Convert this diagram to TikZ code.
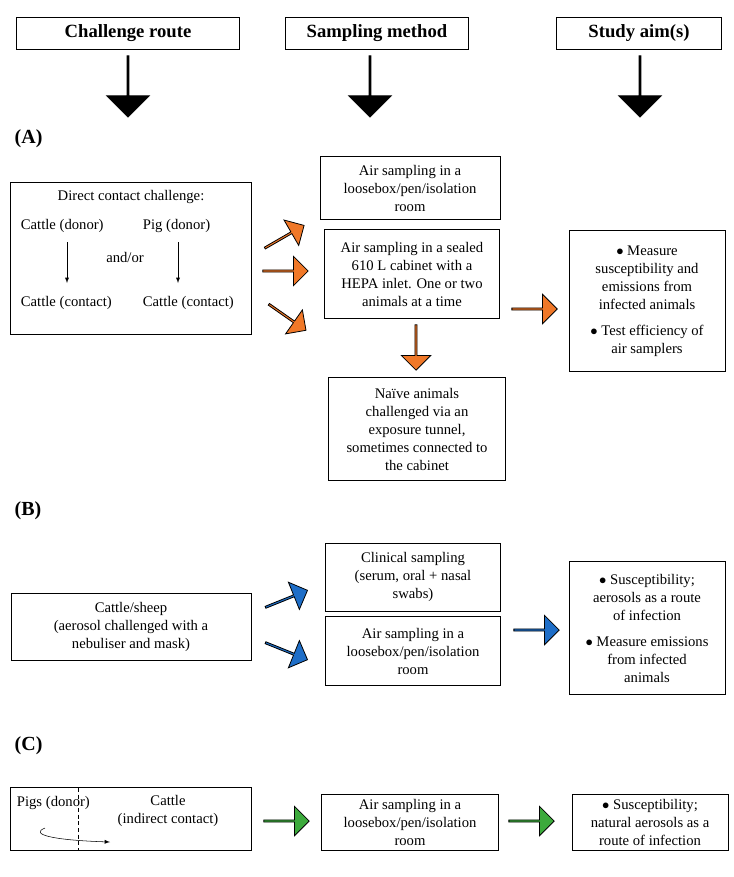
\documentclass[tikz,border=0pt]{standalone}
\usepackage{fontspec}
\setmainfont{Liberation Serif}
\usetikzlibrary{shapes.arrows, positioning}
\definecolor{orng}{RGB}{240,120,40}
\definecolor{blu}{RGB}{30,110,200}
\definecolor{grn}{RGB}{60,170,60}
\begin{document}
\begin{tikzpicture}[x=0.75pt,y=-0.75pt]
\tikzset{BoxStyle/.style = {draw, align= center, font=\fontsize{11}{13.5}\selectfont, inner sep=2pt},
  HeadStyle/.style = {draw, minimum height=24pt, font=\fontsize{14}{16}\selectfont\bfseries},
  FatArrow/.style = {single arrow, draw, fill=#1, minimum height=34pt, minimum width=22pt,
    single arrow head extend=4pt, inner sep=0pt, line width=0.6pt},
  TagStyle/.style = {font=\fontsize{15}{17}\selectfont\bfseries, anchor=west}
}
\useasboundingbox (0,0) rectangle (733,877);

    % Headers
    \node[HeadStyle, minimum width=167pt] (head1) at (128,33) {Challenge route};
    \node[HeadStyle, minimum width=137pt] (head2) at (377,33) {Sampling method};
    \node[HeadStyle, minimum width=124pt] (head3) at (639,33) {Study aim(s)};
    \foreach \x in {128,370,640}
      \node[FatArrow=black, rotate=-90, minimum height=46pt, minimum width=32pt, single arrow head extend=7pt] at (\x,86) {};

    % (A)
    \node[TagStyle] (tagA) at (10,139) {(\textbf{A})};
    \node[BoxStyle, minimum width=181pt, minimum height=114pt] (a0) at (131,258) {};
    \node[BoxStyle, draw=none] (a0t) at (131,197) {Direct contact challenge:};
    \node[BoxStyle, draw=none, anchor=west] (cd) at (18,226) {Cattle (donor)};
    \node[BoxStyle, draw=none, anchor=west] (pd) at (140,226) {Pig (donor)};
    \node[BoxStyle, draw=none] (ao) at (125,257) {and/or};
    \node[BoxStyle, draw=none, anchor=west] (cc1) at (18,303) {Cattle (contact)};
    \node[BoxStyle, draw=none, anchor=west] (cc2) at (140,303) {Cattle (contact)};
    \draw[-latex] (67,242) -- (67,283);
    \draw[-latex] (178,242) -- (178,283);

    \node[BoxStyle, minimum width=135pt, minimum height=47pt] (a1) at (410,188) {Air sampling in a\\loosebox/pen/isolation\\room};
    \node[BoxStyle, minimum width=131pt, minimum height=67pt] (a2) at (412,274) {Air sampling in a sealed\\610 L cabinet with a\\HEPA inlet. One or two\\animals at a time};
    \node[BoxStyle, minimum width=133pt, minimum height=77pt] (a3) at (417,429) {Naïve animals\\challenged via an\\exposure tunnel,\\sometimes connected to\\the cabinet};
    \node[BoxStyle, minimum width=117pt, minimum height=106pt] (a4) at (647,301) {$\bullet$ Measure\\susceptibility and\\emissions from\\infected animals\\[6pt]$\bullet$ Test efficiency of\\air samplers};
    \node[FatArrow=orng, rotate=30] at (284,237) {};
    \node[FatArrow=orng] at (285,271) {};
    \node[FatArrow=orng, rotate=-35] at (287,317) {};
    \node[FatArrow=orng, rotate=-90] at (416,347) {};
    \node[FatArrow=orng] at (534,309) {};

    % (B)
    \node[TagStyle] (tagB) at (10,511) {(\textbf{B})};
    \node[BoxStyle, minimum width=180pt, minimum height=50pt] (b0) at (131,627) {Cattle/sheep\\(aerosol challenged with a\\nebuliser and mask)};
    \node[BoxStyle, minimum width=131pt, minimum height=51pt] (b1) at (413,577) {Clinical sampling\\(serum, oral + nasal\\swabs)};
    \node[BoxStyle, minimum width=131pt, minimum height=52pt] (b2) at (413,651) {Air sampling in a\\loosebox/pen/isolation\\room};
    \node[BoxStyle, minimum width=117pt, minimum height=100pt] (b3) at (647,628) {$\bullet$ Susceptibility;\\aerosols as a route\\of infection\\[6pt]$\bullet$ Measure emissions\\from infected\\animals};
    \node[FatArrow=blu, rotate=22] at (286,599) {};
    \node[FatArrow=blu, rotate=-22] at (286,651) {};
    \node[FatArrow=blu] at (536,630) {};

    % (C)
    \node[TagStyle] (tagC) at (10,746) {(C)};
    \node[BoxStyle, minimum width=181pt, minimum height=47pt] (c0) at (131,819) {};
    \draw[densely dashed] (78,788) -- (78,851);
    \node[BoxStyle, draw=none, anchor=west] (pg) at (14,803) {Pigs (donor)};
    \node[BoxStyle, draw=none] (ct) at (168,811) {Cattle\\(indirect contact)};
    \draw[-latex] (45,828) .. controls (30,834) and (50,840) .. (110,842);
    \node[BoxStyle, minimum width=133pt, minimum height=42pt] (c1) at (410,822) {Air sampling in a\\loosebox/pen/isolation\\room};
    \node[BoxStyle, minimum width=117pt, minimum height=42pt] (c2) at (650,822) {$\bullet$ Susceptibility;\\natural aerosols as a\\route of infection};
    \node[FatArrow=grn] at (286,821) {};
    \node[FatArrow=grn] at (531,821) {};
\end{tikzpicture}
\end{document}
